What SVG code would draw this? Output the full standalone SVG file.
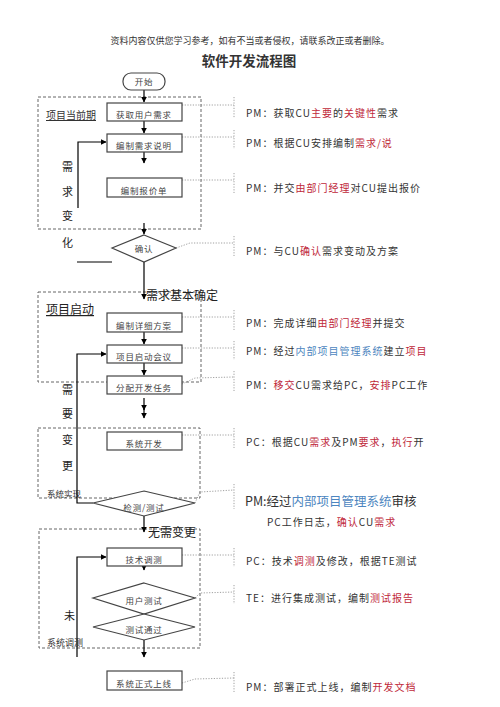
<svg xmlns="http://www.w3.org/2000/svg" width="500" height="707" viewBox="0 0 500 707">
<defs>
<marker id="ah" viewBox="0 0 10 10" refX="9" refY="5" markerWidth="5" markerHeight="5" orient="auto"><path d="M0,0 L10,5 L0,10 z" fill="#000"/></marker>
</defs>
<style>
.bx{fill:#fff;stroke:#444;stroke-width:1.2}
.dsh{fill:none;stroke:#666;stroke-width:1;stroke-dasharray:3,2}
.dot{fill:none;stroke:#888;stroke-width:0.8;stroke-dasharray:1.2,1.5}
.ln{fill:none;stroke:#000;stroke-width:1.2}
.t{font-family:"Noto Sans CJK SC","Liberation Serif",serif;fill:#333}
.bt{font-size:8.5px;text-anchor:middle;fill:#444;letter-spacing:0.8px}
.rt{font-size:10px;letter-spacing:1px}
.lb{font-size:12px;fill:#222}
.vc{font-size:11px;fill:#222}
.r{fill:#c0283a}
.b{fill:#4d86c0}
</style>
<rect width="500" height="707" fill="#fff"/>
<text class="t" x="250" y="44" font-size="9" text-anchor="middle" fill="#444">资料内容仅供您学习参考，如有不当或者侵权，请联系改正或者删除。</text>
<text class="t" x="249" y="66" font-size="13.5" font-weight="bold" text-anchor="middle" fill="#111">软件开发流程图</text>

<g id="frames">
<rect class="dsh" x="38" y="97" width="163" height="132"/>
<rect class="dsh" x="38" y="292" width="163" height="90"/>
<rect class="dsh" x="38" y="428" width="162" height="70"/>
<rect class="dsh" x="39" y="529" width="161" height="119"/>
<text class="t" x="46" y="119" font-size="10" fill="#222" text-decoration="underline">项目当前期</text>
<text class="t lb" x="46" y="314" text-decoration="underline">项目启动</text>
<text class="t" x="47" y="497" font-size="8.5" fill="#444">系统实现</text>
<text class="t" x="47" y="646" font-size="9" fill="#444">系统调测</text>
<text class="t vc" x="62" y="171">需</text>
<text class="t vc" x="62" y="196">求</text>
<text class="t vc" x="62" y="220">变</text>
<text class="t vc" x="62" y="247">化</text>
<text class="t vc" x="62" y="394">需</text>
<text class="t vc" x="62" y="418">要</text>
<text class="t vc" x="62" y="444">变</text>
<text class="t vc" x="62" y="470">更</text>
<text class="t vc" x="64" y="620">未</text>
<text class="t lb" x="146" y="300">需求基本确定</text>
<text class="t lb" x="148" y="537">无需变更</text>
</g>

<g id="connectors">
<line class="ln" x1="144" y1="90" x2="144" y2="102" marker-end="url(#ah)"/>
<line class="ln" x1="144" y1="121" x2="144" y2="133" marker-end="url(#ah)"/>
<line class="ln" x1="144" y1="152" x2="144" y2="163" marker-end="url(#ah)"/>
<line class="ln" x1="144" y1="223" x2="144" y2="234" marker-end="url(#ah)"/>
<polyline class="ln" points="78,208 78,142 106,142" marker-end="url(#ah)"/>
<line class="ln" x1="77" y1="262" x2="112" y2="262"/>
<line class="ln" x1="144" y1="262" x2="144" y2="299" marker-end="url(#ah)"/>
<line class="ln" x1="144" y1="332" x2="144" y2="344" marker-end="url(#ah)"/>
<line class="ln" x1="144" y1="363" x2="144" y2="375" marker-end="url(#ah)"/>
<line class="ln" x1="144" y1="398" x2="144" y2="410" marker-end="url(#ah)"/>
<line class="ln" x1="144" y1="408" x2="144" y2="418" marker-end="url(#ah)"/>
<polyline class="ln" points="93,503 77,503 77,354 106,354" marker-end="url(#ah)"/>
<line class="ln" x1="144" y1="516" x2="144" y2="532" marker-end="url(#ah)"/>
<line class="ln" x1="144" y1="554" x2="144" y2="570" marker-end="url(#ah)"/>
<line class="ln" x1="144" y1="600" x2="144" y2="614" marker-end="url(#ah)"/>
<line class="ln" x1="144" y1="640" x2="144" y2="657" marker-end="url(#ah)"/>
<polyline class="ln" points="77,657 77,557 106,557" marker-end="url(#ah)"/>
<g>
<polyline class="dot" points="182,105 234,105"/><line class="dot" x1="234" y1="97" x2="234" y2="118"/>
<polyline class="dot" points="182,137 234,137"/><line class="dot" x1="234" y1="130" x2="234" y2="149"/>
<polyline class="dot" points="182,180 234,180"/><line class="dot" x1="234" y1="173" x2="234" y2="193"/>
<polyline class="dot" points="176,248 190,243 234,243"/><line class="dot" x1="234" y1="236" x2="234" y2="256"/>
<polyline class="dot" points="182,317 234,317"/><line class="dot" x1="234" y1="310" x2="234" y2="330"/>
<polyline class="dot" points="182,348 234,348"/><line class="dot" x1="234" y1="341" x2="234" y2="360"/>
<polyline class="dot" points="182,384 195,378 234,377"/><line class="dot" x1="234" y1="371" x2="234" y2="391"/>
<polyline class="dot" points="182,435 234,435"/><line class="dot" x1="234" y1="428" x2="234" y2="448"/>
<polyline class="dot" points="195,503 200,492 234,490"/><line class="dot" x1="234" y1="484" x2="234" y2="509"/>
<polyline class="dot" points="182,555 234,555"/><line class="dot" x1="234" y1="548" x2="234" y2="567"/>
<polyline class="dot" points="195,598 200,593 234,592"/><line class="dot" x1="234" y1="585" x2="234" y2="604"/>
<polyline class="dot" points="182,683 195,679 234,678"/><line class="dot" x1="234" y1="672" x2="234" y2="692"/>
</g>
</g>

<g id="start"><rect class="bx" x="123" y="73" width="42" height="17" rx="8"/><text class="t bt" x="144" y="85">开始</text></g>
<g id="n1"><rect class="bx" x="107" y="103" width="75" height="18"/><text class="t bt" x="144" y="118">获取用户需求</text></g>
<g id="n2"><rect class="bx" x="107" y="134" width="75" height="18"/><text class="t bt" x="144" y="149">编制需求说明</text></g>
<g id="n3"><rect class="bx" x="107" y="178" width="75" height="19"/><text class="t bt" x="144" y="194">编制报价单</text></g>
<g id="d1"><polygon class="bx" points="144,235 176,248 144,262 112,248"/><text class="t bt" x="144" y="252">确认</text></g>
<g id="n4"><rect class="bx" x="107" y="313" width="75" height="19"/><text class="t bt" x="144" y="329">编制详细方案</text></g>
<g id="n5"><rect class="bx" x="107" y="345" width="75" height="18"/><text class="t bt" x="144" y="360">项目启动会议</text></g>
<g id="n6"><rect class="bx" x="107" y="376" width="75" height="18"/><text class="t bt" x="144" y="391">分配开发任务</text></g>
<g id="n7"><rect class="bx" x="107" y="432" width="75" height="18"/><text class="t bt" x="144" y="447">系统开发</text></g>
<g id="d2"><polygon class="bx" points="144,491 195,503 144,516 93,503"/><text class="t bt" x="144" y="511">检测/测试</text></g>
<g id="n8"><rect class="bx" x="107" y="548" width="75" height="18"/><text class="t bt" x="144" y="563">技术调测</text></g>
<g id="d3"><polygon class="bx" points="144,583 195,598 144,614 93,598"/><text class="t bt" x="144" y="604">用户测试</text></g>
<g id="d4"><polygon class="bx" points="144,614 195,627 144,640 93,627"/><text class="t bt" x="144" y="633">测试通过</text></g>
<g id="n9"><rect class="bx" x="107" y="671" width="75" height="19"/><text class="t bt" x="144" y="687">系统正式上线</text></g>

<g id="notes">
<text class="t rt" x="246" y="117">PM：获取CU<tspan class="r">主要</tspan>的<tspan class="r">关键性</tspan>需求</text>
<text class="t rt" x="246" y="147">PM：根据CU安排编制<tspan class="r">需求/说</tspan></text>
<text class="t rt" x="246" y="192">PM：并交<tspan class="r">由部门经理</tspan>对CU提出报价</text>
<text class="t rt" x="246" y="255">PM：与CU<tspan class="r">确认</tspan>需求变动及方案</text>
<text class="t rt" x="246" y="327">PM：完成详细<tspan class="r">由部门经理</tspan>并提交</text>
<text class="t rt" x="246" y="355" fill="#777">PM：经过<tspan class="b">内部项目管理系统</tspan>建立<tspan class="r">项目</tspan></text>
<text class="t rt" x="246" y="389">PM：<tspan class="r">移交</tspan>CU需求给PC，<tspan class="r">安排</tspan>PC工作</text>
<text class="t rt" x="246" y="446">PC：根据CU<tspan class="r">需求</tspan>及PM<tspan class="r">要求</tspan>，<tspan class="r">执行</tspan>开</text>
<text class="t" x="245" y="506" font-size="12.5" fill="#333">PM:经过<tspan class="b">内部项目管理系统</tspan>审核</text>
<text class="t rt" x="267" y="526">PC工作日志，<tspan class="r">确认</tspan>CU<tspan class="r">需求</tspan></text>
<text class="t rt" x="246" y="565">PC：技术<tspan class="r">调测</tspan>及修改，根据TE测试</text>
<text class="t rt" x="246" y="602">TE：进行集成测试，编制<tspan class="r">测试报告</tspan></text>
<text class="t rt" x="246" y="691">PM：部署正式上线，编制<tspan class="r">开发文档</tspan></text>
</g>
</svg>
